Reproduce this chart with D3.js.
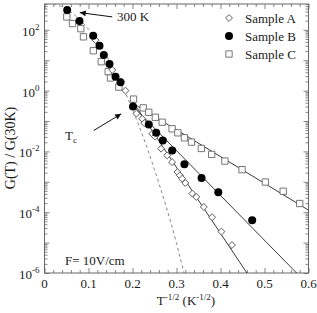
<!DOCTYPE html>
<html><head><meta charset="utf-8">
<script src="https://cdn.jsdelivr.net/npm/d3@7"></script>
<style>
html,body{margin:0;padding:0;background:#fff;}
svg{display:block;}
</style></head>
<body><svg id="c" width="317" height="313"></svg>
<script>
// ---- data (x = T^-1/2 in K^-1/2, y = G(T)/G(30K)) ----
const sampleA_x = [0.116,0.154,0.174,0.184,0.209,0.222,0.227,0.245,0.251,0.265,0.279,0.290,0.302,0.3075,0.313,0.320,0.336,0.345,0.362,0.381,0.402,0.426];
const sampleA_y = [45.9,4.78,1.97,1.0,0.176,0.118,0.0847,0.038,0.031,0.0123,0.0074,0.00446,0.0021,0.00163,0.00127,0.000914,0.00041,0.000318,0.000149,6.85e-5,2.3e-5,8.3e-6];
const sampleB_x = [0.0516,0.0795,0.1107,0.125,0.1348,0.1477,0.1614,0.1727,0.2011,0.237,0.2539,0.2689,0.2902,0.318,0.357,0.395,0.472];
const sampleB_y = [453,197,63.5,29.9,14.8,7.5,2.88,1.87,0.30,0.0767,0.041,0.023,0.0108,0.00375,0.00133,0.000453,5.47e-5];
const sampleC_x = [0.0507,0.0636,0.0825,0.0886,0.111,0.129,0.1448,0.150,0.169,0.2023,0.2243,0.237,0.252,0.2675,0.290,0.303,0.318,0.334,0.3564,0.380,0.410,0.449,0.502,0.5425,0.580];
const sampleC_y = [267,161,109,58.9,20.5,8.93,4.2,2.61,1.31,0.526,0.271,0.194,0.133,0.0914,0.0555,0.041,0.0281,0.0202,0.0125,0.00798,0.00481,0.00251,0.000984,0.000489,0.000193];
// fitted lines (end points)
const fitA = [[0.2,0.447],[0.46,1e-6]];
const fitB = [[0.2,0.316],[0.573,1e-6]];
const fitC = [[0.2,0.389],[0.6,1.17e-4]];
// dashed curve (points read along it)
const dashX = [0.02,0.05,0.1,0.15,0.2,0.25,0.3,0.317];
const dashY = [733,479,105,8.3,0.24,0.0025,9.5e-6,1e-6];
const xTicks = [0,0.1,0.2,0.3,0.4,0.5,0.6];
const xTickLabels = ["0","0.1","0.2","0.3","0.4","0.5","0.6"];
const yTickExp = [2,0,-2,-4,-6];
const legendLabels = ["Sample A","Sample B","Sample C"];

const svg = d3.select("#c");
const FONT="Liberation Serif";
const L=44.5,R=308.5,T=4,B=273;
const x = d3.scaleLinear().domain([0,0.6]).range([L,R]);
const y = d3.scaleLog().domain([1e-6,Math.pow(10,2.85)]).range([B,T]);
const axisCol="#666";
const txtCol="#1a1a1a";

const defs=svg.append("defs");
defs.append("clipPath").attr("id","clip")
  .append("rect").attr("x",L).attr("y",T).attr("width",R-L).attr("height",B-T);
defs.append("marker").attr("id","arr").attr("viewBox","0 0 10 10").attr("refX",10).attr("refY",5)
  .attr("markerWidth",7).attr("markerHeight",6).attr("markerUnits","userSpaceOnUse").attr("orient","auto")
  .append("path").attr("d","M0,0 L10,5 L0,10 z").attr("fill","#111");

// axes ticks
const minorX = d3.range(0,0.6001,0.02).filter(v=>Math.abs(v*10-Math.round(v*10))>1e-6);
const majorY = d3.range(-6,3).map(e=>Math.pow(10,e));
const minorY = [];
for(let e=-6;e<=2;e++) for(let k=2;k<=9;k++){const v=k*Math.pow(10,e); if(v<=Math.pow(10,2.85)) minorY.push(v);}

function ax(gen,scale,vals,size,tr){
  const g=svg.append("g").attr("transform",tr)
   .call(gen(scale).tickValues(vals).tickSize(size).tickFormat(""));
  g.select(".domain").remove();
  g.selectAll("line").attr("stroke",axisCol).attr("stroke-width",0.8);
}
ax(d3.axisBottom,x,xTicks,-5,`translate(0,${B})`);
ax(d3.axisBottom,x,minorX,-3,`translate(0,${B})`);
ax(d3.axisTop,x,xTicks,-5,`translate(0,${T})`);
ax(d3.axisTop,x,minorX,-3,`translate(0,${T})`);
ax(d3.axisLeft,y,majorY,-5,`translate(${L},0)`);
ax(d3.axisLeft,y,minorY,-3,`translate(${L},0)`);
ax(d3.axisRight,y,majorY,-5,`translate(${R},0)`);
ax(d3.axisRight,y,minorY,-3,`translate(${R},0)`);
svg.append("rect").attr("x",L).attr("y",T).attr("width",R-L).attr("height",B-T)
  .attr("fill","none").attr("stroke",axisCol).attr("stroke-width",1);

// tick labels
svg.append("g").selectAll("text").data(xTicks).join("text")
  .attr("x",d=>x(d)).attr("y",B+15).attr("text-anchor","middle").attr("font-size",13).attr("font-family",FONT).attr("fill",txtCol)
  .text((d,i)=>xTickLabels[i]);
const yl=svg.append("g").selectAll("text").data(yTickExp).join("text")
  .attr("x",L-5).attr("y",d=>y(Math.pow(10,d))+6).attr("text-anchor","end").attr("font-size",13).attr("font-family",FONT).attr("fill",txtCol);
yl.append("tspan").text("10");
yl.append("tspan").attr("dy",-6).attr("font-size",9).text(d=>d<0?"-"+(-d):String(d));

// axis titles
const xt=svg.append("text").attr("x",186).attr("y",305).attr("text-anchor","middle").attr("font-size",13).attr("font-family",FONT).attr("fill",txtCol);
xt.append("tspan").text("T");
xt.append("tspan").attr("dy",-5).attr("font-size",9).text("-1/2");
xt.append("tspan").attr("dy",5).text(" (K");
xt.append("tspan").attr("dy",-5).attr("font-size",9).text("-1/2");
xt.append("tspan").attr("dy",5).text(")");
svg.append("text").attr("transform","translate(15,148) rotate(-90)").attr("text-anchor","middle")
  .attr("font-size",14).attr("font-family",FONT).attr("fill",txtCol).text("G(T) / G(30K)");

// plot
const pg=svg.append("g").attr("clip-path","url(#clip)");
const line=d3.line().x(d=>x(d[0])).y(d=>y(d[1]));
[fitA,fitB,fitC].forEach(f=>pg.append("path").attr("d",line(f)).attr("fill","none").attr("stroke","#222").attr("stroke-width",0.9));
pg.append("path").attr("d",d3.line().curve(d3.curveMonotoneX).x(d=>x(d[0])).y(d=>y(d[1]))(dashX.map((v,i)=>[v,dashY[i]])))
  .attr("fill","none").attr("stroke","#777").attr("stroke-width",0.9).attr("stroke-dasharray","3,3");

const sq=d3.symbol().type(d3.symbolSquare).size(40);
const dm=d3.symbol().type(d3.symbolSquare).size(24);
pg.append("g").selectAll("path").data(sampleC_x.map((v,i)=>[v,sampleC_y[i]])).join("path")
  .attr("d",sq).attr("transform",d=>`translate(${x(d[0])},${y(d[1])})`)
  .attr("fill","#fff").attr("stroke","#666").attr("stroke-width",0.9);
pg.append("g").selectAll("path").data(sampleA_x.map((v,i)=>[v,sampleA_y[i]])).join("path")
  .attr("d",dm).attr("transform",d=>`translate(${x(d[0])},${y(d[1])}) rotate(45)`)
  .attr("fill","#fff").attr("stroke","#555").attr("stroke-width",0.9);
pg.append("g").selectAll("circle").data(sampleB_x.map((v,i)=>[v,sampleB_y[i]])).join("circle")
  .attr("cx",d=>x(d[0])).attr("cy",d=>y(d[1])).attr("r",4).attr("fill","#000");

// annotations
svg.append("line").attr("x1",x(0.1539)).attr("y1",y(Math.pow(10,2.426))).attr("x2",x(0.0802)).attr("y2",y(Math.pow(10,2.567)))
  .attr("stroke","#111").attr("stroke-width",1).attr("marker-end","url(#arr)");
svg.append("text").attr("x",117).attr("y",21).attr("font-size",13).attr("font-family",FONT).attr("fill",txtCol).text("300 K");
svg.append("line").attr("x1",x(0.112)).attr("y1",y(Math.pow(10,-1.311))).attr("x2",x(0.1743)).attr("y2",y(Math.pow(10,-0.764)))
  .attr("stroke","#111").attr("stroke-width",1).attr("marker-end","url(#arr)");
const tc=svg.append("text").attr("x",65).attr("y",140).attr("font-size",13).attr("font-family",FONT).attr("fill",txtCol);
tc.append("tspan").text("T");
tc.append("tspan").attr("dy",3).attr("font-size",9).text("c");
svg.append("text").attr("x",65).attr("y",265).attr("font-size",13).attr("font-family",FONT).attr("fill",txtCol).text("F= 10V/cm");

// legend
const lg=svg.append("g");
const ly=[18,36,54];
lg.append("path").attr("d",dm).attr("transform",`translate(229,${ly[0]}) rotate(45)`).attr("fill","#fff").attr("stroke","#555").attr("stroke-width",0.9);
lg.append("circle").attr("cx",229).attr("cy",ly[1]).attr("r",4).attr("fill","#000");
lg.append("path").attr("d",sq).attr("transform",`translate(229,${ly[2]})`).attr("fill","#fff").attr("stroke","#666").attr("stroke-width",0.9);
lg.selectAll("text").data(legendLabels).join("text").attr("x",245).attr("y",(d,i)=>ly[i]+4.5)
  .attr("font-size",13).attr("font-family",FONT).attr("fill",txtCol).text(d=>d);
</script></body></html>
